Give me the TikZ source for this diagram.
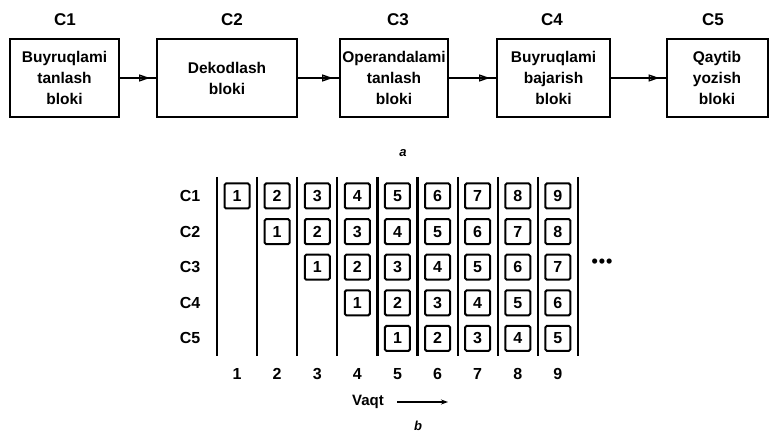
\documentclass[tikz,border=0pt]{standalone}
\usepackage{fontspec}
\setmainfont{Liberation Sans}
\usetikzlibrary{arrows.meta,decorations.markings}
\begin{document}
\begin{tikzpicture}[x=1pt,y=-1pt,
  stage/.style={draw, line width=2pt, minimum height=78pt, inner sep=0pt, align=center,
    font=\bfseries\fontsize{15.5}{21}\selectfont},
  stagelabel/.style={font=\bfseries\fontsize{17}{17}\selectfont},
  flow/.style={line width=2pt, postaction={decorate},
    decoration={markings, mark=at position -6pt with {\arrow[line width=1.4pt]{Triangle[open, length=11pt, width=7pt]}}}},
  cell/.style={draw, line width=2pt, rounded corners=1.5pt, minimum width=25pt, minimum height=25pt,
    inner sep=0pt, font=\bfseries\fontsize{16}{16}\selectfont},
  rowlabel/.style={font=\bfseries\fontsize{16}{16}\selectfont},
  tick/.style={font=\bfseries\fontsize{16}{16}\selectfont},
  sep/.style={line width=2.2pt},
  capt/.style={font=\bfseries\itshape\fontsize{13}{13}\selectfont}]
\useasboundingbox (0,0) rectangle (770,435);

% top pipeline
\node[stage, minimum width=109pt] (b1) at (64.5,78) {Buyruqlami\\tanlash\\bloki};
\node[stage, minimum width=140pt] (b2) at (227,78) {Dekodlash\\bloki};
\node[stage, minimum width=108pt] (b3) at (394,78) {Operandalami\\tanlash\\bloki};
\node[stage, minimum width=113pt] (b4) at (553.5,78) {Buyruqlami\\bajarish\\bloki};
\node[stage, minimum width=101pt] (b5) at (717,78) {Qaytib\\yozish\\bloki};

\node[stagelabel] (l1) at (65,20) {C1};
\node[stagelabel] (l2) at (232,20) {C2};
\node[stagelabel] (l3) at (398,20) {C3};
\node[stagelabel] (l4) at (552,20) {C4};
\node[stagelabel] (l5) at (713,20) {C5};

\draw[flow] (b1.east) -- (b2.west);
\draw[flow] (b2.east) -- (b3.west);
\draw[flow] (b3.east) -- (b4.west);
\draw[flow] (b4.east) -- (b5.west);

\node[capt] (capa) at (403,153) {a};

% bottom time diagram
\foreach \i in {0,...,9} {
  \coordinate (st\i) at ({217+40.1*\i},177);
  \coordinate (sb\i) at ({217+40.1*\i},356);
  \draw[sep] (st\i) -- (sb\i);
}
\foreach \r in {1,...,5} {
  \node[rowlabel] (r\r) at (190,{196+35.6*(\r-1)}) {C\r};
  \foreach \j in {\r,...,9} {
    \pgfmathtruncatemacro{\n}{\j-\r+1}
    \node[cell] (c\r-\j) at ({217+40.1*(\j-0.5)},{196+35.6*(\r-1)}) {\n};
  }
}
\foreach \j in {1,...,9} {
  \node[tick] (t\j) at ({217+40.1*(\j-0.5)},374) {\j};
}
\node[font=\bfseries\fontsize{18}{18}\selectfont] (dots) at (602,263) {\textbullet\kern1pt\textbullet\kern1pt\textbullet};

\node[font=\bfseries\fontsize{15}{15}\selectfont] (vaqt) at (368,402) {Vaqt};
\coordinate (va) at (397,402);
\coordinate (vb) at (448,402);
\draw[line width=1.4pt, -{Stealth[length=7pt, width=5pt]}] (va) -- (vb);

\node[capt] (capb) at (418,426) {b};
\end{tikzpicture}
\end{document}
